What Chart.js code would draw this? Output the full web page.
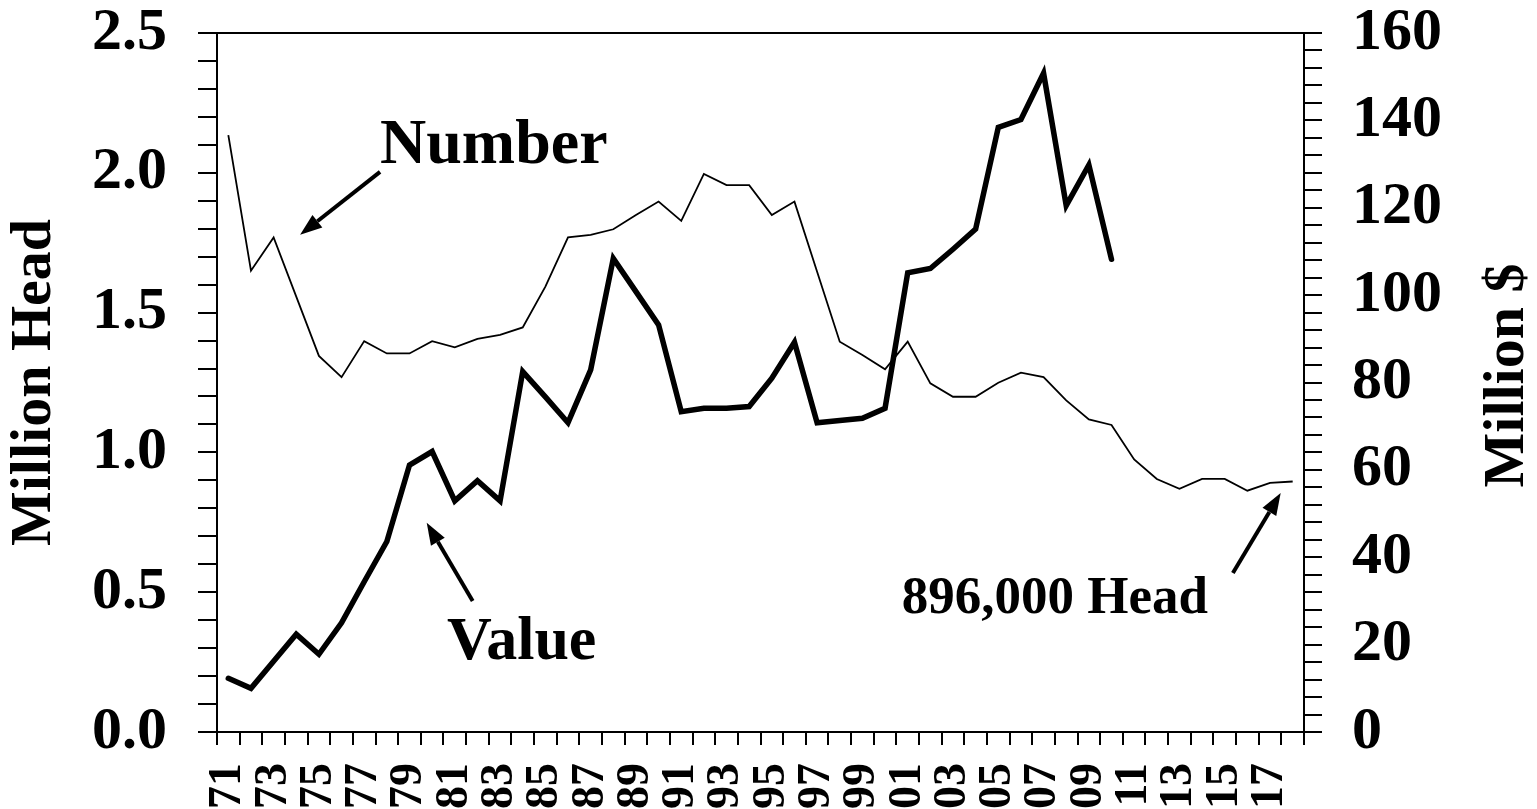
<!DOCTYPE html>
<html>
<head>
<meta charset="utf-8">
<script src="https://cdn.jsdelivr.net/npm/chart.js@4"></script>
<style>
  html, body { margin: 0; padding: 0; background: #fff; }
  #wrap { width: 1537px; height: 809px; position: relative; }
</style>
</head>
<body>
<div id="wrap"><canvas id="grafico"></canvas></div>
<script>
const years = [
  "71","72","73","74","75","76","77","78","79",
  "80","81","82","83","84","85","86","87","88","89",
  "90","91","92","93","94","95","96","97","98","99",
  "00","01","02","03","04","05","06","07","08","09",
  "10","11","12","13","14","15","16","17","18"
];

// Million head (left axis)
const numberHead = [
  2.135, 1.650, 1.769, 1.557, 1.345, 1.269, 1.398, 1.354, 1.354,
  1.398, 1.376, 1.406, 1.420, 1.447, 1.593, 1.769, 1.778, 1.798, 1.849,
  1.897, 1.828, 1.996, 1.956, 1.956, 1.849, 1.897, 1.646, 1.396, 1.348,
  1.297, 1.396, 1.247, 1.199, 1.199, 1.249, 1.285, 1.269, 1.186, 1.118,
  1.098, 0.975, 0.905, 0.870, 0.905, 0.905, 0.863, 0.891, 0.896
];

// Million $ (right axis)
const valueMillion = [
  12.3, 10.0, 16.2, 22.4, 17.8, 25.0, 34.4, 43.6, 61.1,
  64.2, 52.9, 57.5, 52.9, 82.5, 76.7, 70.8, 82.9, 108.4, 100.8,
  93.2, 73.3, 74.1, 74.1, 74.5, 81.0, 89.2, 70.8, 71.3, 71.8,
  74.1, 105.1, 106.1, 110.5, 115.1, 138.4, 140.2, 150.8, 120.5, 129.8,
  108.2, null, null, null, null, null, null, null, null
];

const leftTicks = [0.0, 0.5, 1.0, 1.5, 2.0, 2.5];
const rightTicks = [0, 20, 40, 60, 80, 100, 120, 140, 160];

// annotations placed in category index / right-axis units
const notas = [
  { text: "Number", size: 64, x: 6.7, y: 130.2, tipX: 3.17, tipY: 113.8, tailX: 6.7, tailY: 128.2 },
  { text: "Value", size: 62, x: 9.66, y: 16.7, tipX: 8.76, tipY: 47.9, tailX: 10.79, tailY: 30.0 },
  { text: "896,000 Head", size: 53, x: 29.74, y: 27.2, tipX: 46.47, tipY: 54.7, tailX: 44.36, tailY: 36.4 }
];

const FONT = "'Liberation Serif', 'Times New Roman', serif";

const anotaciones = {
  id: "anotaciones",
  afterDraw(chart) {
    const { ctx, chartArea } = chart;
    const x = chart.scales.x;
    const y2 = chart.scales.y2;
    ctx.save();
    ctx.fillStyle = "#000";
    ctx.strokeStyle = "#000";
    notas.forEach(n => {
      ctx.font = `bold ${n.size}px ${FONT}`;
      ctx.textAlign = "left";
      ctx.textBaseline = "alphabetic";
      ctx.fillText(n.text, x.getPixelForValue(n.x), y2.getPixelForValue(n.y));

      const x1 = x.getPixelForValue(n.tailX), yA = y2.getPixelForValue(n.tailY);
      const x2 = x.getPixelForValue(n.tipX), yB = y2.getPixelForValue(n.tipY);
      const ang = Math.atan2(yB - yA, x2 - x1);
      const headLen = 22, headW = 8;
      const bx = x2 - headLen * Math.cos(ang), by = yB - headLen * Math.sin(ang);
      ctx.lineWidth = 4;
      ctx.beginPath();
      ctx.moveTo(x1, yA);
      ctx.lineTo(bx, by);
      ctx.stroke();
      ctx.beginPath();
      ctx.moveTo(x2, yB);
      ctx.lineTo(bx + headW * Math.sin(ang), by - headW * Math.cos(ang));
      ctx.lineTo(bx - headW * Math.sin(ang), by + headW * Math.cos(ang));
      ctx.closePath();
      ctx.fill();
    });

    // right axis title reads bottom to top
    ctx.font = `bold 58px ${FONT}`;
    ctx.textAlign = "center";
    ctx.textBaseline = "middle";
    ctx.translate(chart.width - 29, (chartArea.top + chartArea.bottom) / 2 - 7);
    ctx.rotate(-Math.PI / 2);
    ctx.fillText("Million $", 0, 0);
    ctx.restore();
  }
};

// keep the plot box where the reference has it
function sinRelleno(scale) {
  scale.paddingTop = 0;
  scale.paddingBottom = 0;
  scale.paddingLeft = 0;
  scale.paddingRight = 0;
}

const ctx = document.getElementById("grafico").getContext("2d");
const grafico = new Chart(ctx, {
  type: "line",
  data: {
    labels: years,
    datasets: [
      {
        label: "Number",
        data: numberHead,
        yAxisID: "y",
        borderColor: "#000",
        borderWidth: 1.8,
        pointRadius: 0,
        tension: 0,
        fill: false
      },
      {
        label: "Value",
        data: valueMillion,
        yAxisID: "y2",
        borderColor: "#000",
        borderWidth: 5.5,
        borderCapStyle: "round",
        pointRadius: 0,
        tension: 0,
        fill: false,
        spanGaps: false
      }
    ]
  },
  options: {
    responsive: true,
    maintainAspectRatio: false,
    animation: false,
    layout: { padding: 0 },
    plugins: {
      legend: { display: false },
      tooltip: { enabled: false }
    },
    scales: {
      x: {
        type: "category",
        position: "bottom",
        offset: true,
        grid: { offset: true, drawOnChartArea: false, color: "#000", lineWidth: 2, tickLength: 13 },
        border: { display: true, color: "#000", width: 2 },
        ticks: {
          autoSkip: false,
          minRotation: 90,
          maxRotation: 90,
          padding: 18,
          color: "#000",
          font: { family: FONT, size: 46, weight: "bold" },
          callback: function (val, i) {
            return i % 2 === 0 ? this.getLabelForValue(val) : "";
          }
        },
        afterFit(scale) { sinRelleno(scale); scale.height = 77; }
      },
      xTop: {
        type: "category",
        position: "top",
        offset: true,
        grid: { drawOnChartArea: false, drawTicks: false },
        border: { display: true, color: "#000", width: 2 },
        ticks: { display: false },
        afterFit(scale) { sinRelleno(scale); scale.height = 33; }
      },
      y: {
        position: "left",
        min: 0,
        max: 2.5,
        grid: { drawOnChartArea: false, color: "#000", lineWidth: 2, tickLength: 19 },
        border: { display: true, color: "#000", width: 2 },
        ticks: {
          stepSize: 0.1,
          autoSkip: false,
          padding: 31,
          color: "#000",
          font: { family: FONT, size: 60, weight: "bold" },
          callback: v => {
            const r = Math.round(v * 10) / 10;
            return leftTicks.includes(r) ? r.toFixed(1) : "";
          }
        },
        title: {
          display: true,
          text: "Million Head",
          color: "#000",
          padding: 0,
          font: { family: FONT, size: 58, weight: "bold", lineHeight: 1.2 }
        },
        afterFit(scale) { sinRelleno(scale); scale.width = 217; }
      },
      y2: {
        position: "right",
        min: 0,
        max: 160,
        grid: { drawOnChartArea: false, color: "#000", lineWidth: 2, tickLength: 18 },
        border: { display: true, color: "#000", width: 2 },
        ticks: {
          stepSize: 4,
          autoSkip: false,
          padding: 30,
          color: "#000",
          font: { family: FONT, size: 60, weight: "bold" },
          callback: v => rightTicks.includes(Math.round(v)) ? String(Math.round(v)) : ""
        },
        afterFit(scale) { sinRelleno(scale); scale.width = 233; }
      }
    }
  },
  plugins: [anotaciones]
});
</script>
</body>
</html>
